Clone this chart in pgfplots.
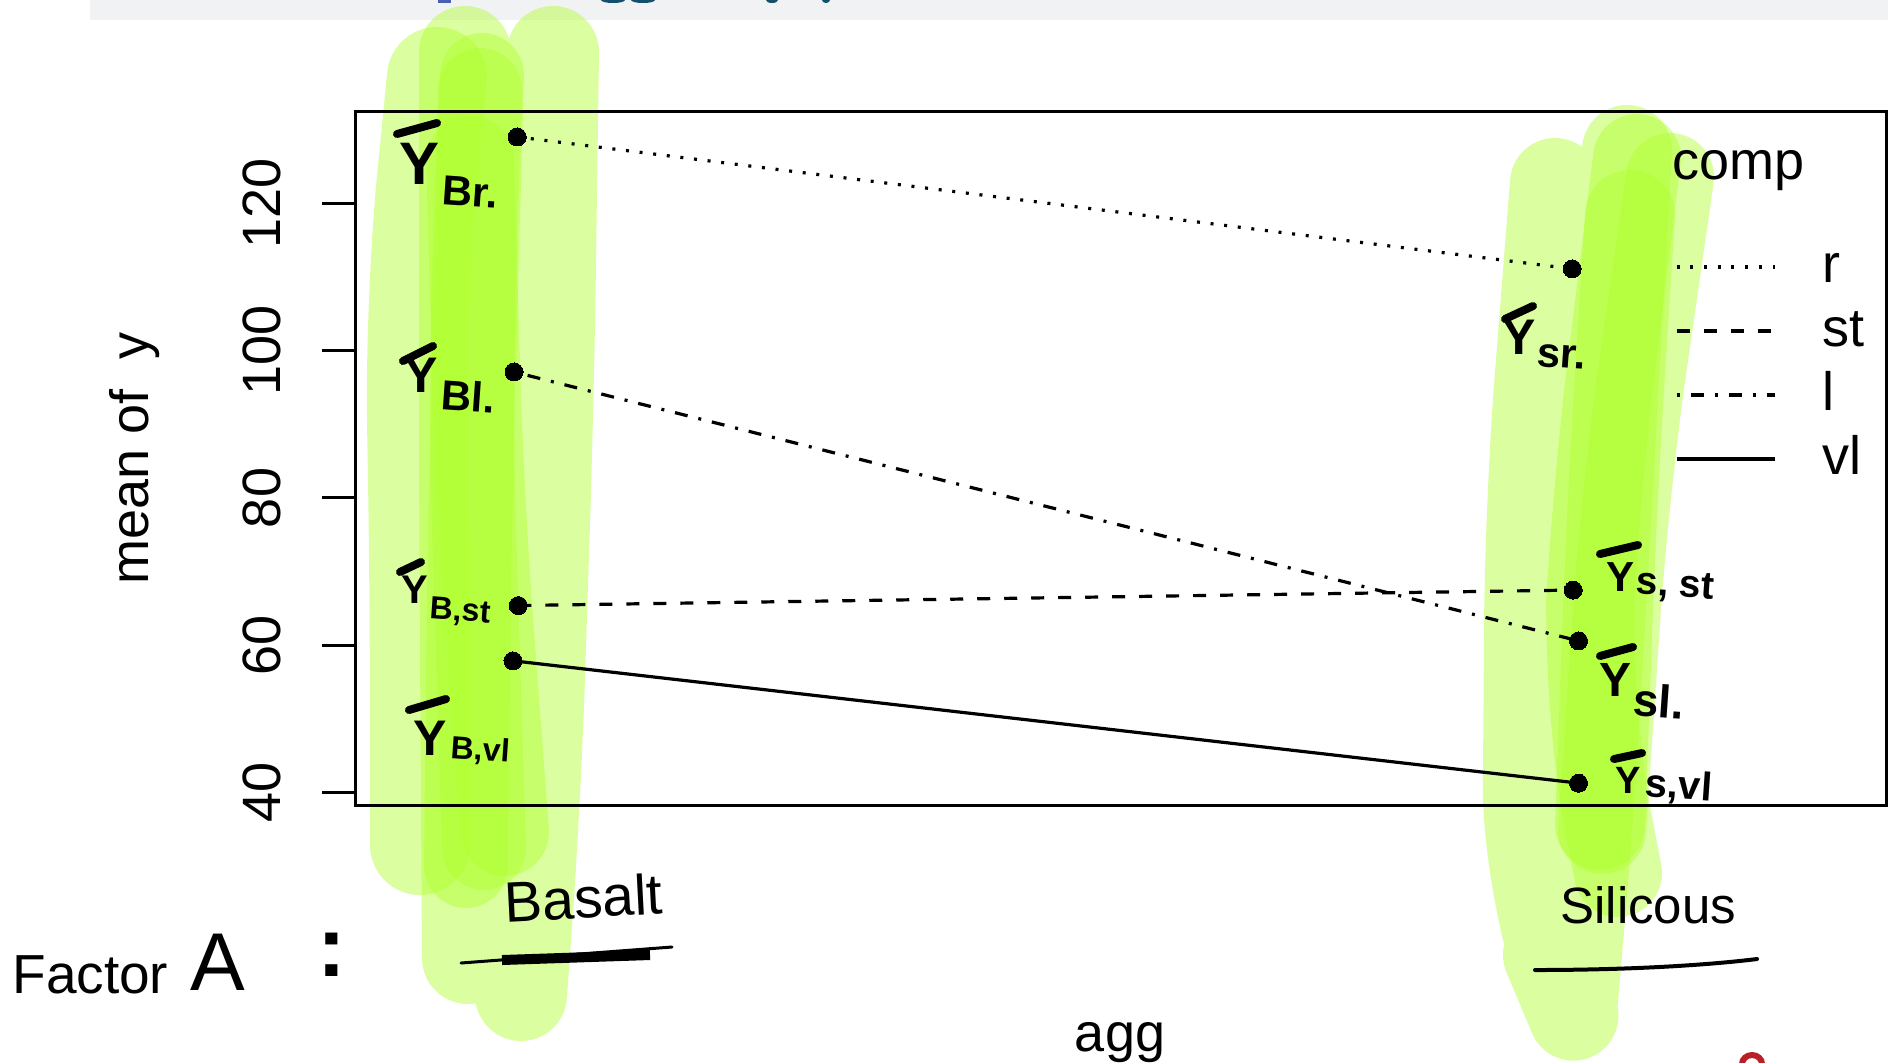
\documentclass[border=0pt]{standalone}
\usepackage{pgfplots}
\pgfplotsset{compat=1.18}
\usepackage{fontspec}
\setmainfont{Liberation Sans}
\definecolor{hl}{HTML}{AFFF2D}
\definecolor{band}{HTML}{F1F2F4}
\definecolor{teal}{HTML}{12506B}
\definecolor{blu}{HTML}{4A5FB0}
\definecolor{redm}{HTML}{B82025}
\newcommand{\hlstroke}[2]{\draw[hl,opacity=.45,line width=#1*0.5pt,line cap=round,line join=round,rounded corners=60pt] #2;}
% bar: x1 y1 x2 y2 ; Y: x y size ; sub: size, at ; sub text in \subtxt
\newcommand{\yb}[9]{%
  \draw[line width=4pt,line cap=round] (#1,#2)--(#3,#4);
  \node[inner sep=0,font=\fontsize{#7}{#7}\selectfont\bfseries] at (#5,#6) {Y};
  \node[inner sep=0,anchor=west,font=\fontsize{#8}{#8}\selectfont\bfseries,rotate=-4] at (#9) {\subtxt};}
\pgfplotsset{pt/.style={black,line width=1.6pt,mark=*,mark size=4.5pt,mark options={solid,fill=black,draw=black,line width=0pt}}}
\begin{document}
\begin{tikzpicture}[x=0.5pt,y=-0.5pt]
\path[use as bounding box] (0,0) rectangle (1888,1062);
\begin{scope}
\clip (0,0) rectangle (1888,1062);
\fill[band] (90,0) rectangle (1888,19.5);
\fill[blu] (438,0) rectangle (451,2.5);
\fill[teal] (613,0) ellipse (12 and 3);
\fill[teal] (643,0) ellipse (12 and 3);
\fill[teal] (772,0) ellipse (6 and 3);
\fill[teal] (826,0) ellipse (4 and 3);
\draw[redm,line width=3pt] (1742,1064) arc (180:360:10 and 9);
% Basalt highlighter strokes
\hlstroke{92}{(465,52)--(465,500)--(468,958) (521,995)--(535,800)--(548,400)--(553,52)}
\hlstroke{100}{(437,77)--(415,300)--(420,600)--(420,845)}
\hlstroke{84}{(482,75)--(470,500)--(466,866)}
\hlstroke{84}{(480,90)--(470,400)--(484,848)}
\hlstroke{88}{(470,160)--(480,500)--(505,832)}
% Silicous highlighter strokes
\hlstroke{90}{(1555,183)--(1530,500)--(1527,905)--(1548,955) (1572,1012)--(1590,800)--(1610,450)--(1627,150)}
\hlstroke{88}{(1637,158)--(1596,490)--(1585,700)--(1618,873)}
\hlstroke{88}{(1670,177)--(1625,490)--(1602,830)}
\hlstroke{90}{(1630,215)--(1612,500)--(1600,825)}
\end{scope}
\begin{axis}[
  at={(177.5pt,-402.75pt)},anchor=south west,
  scale only axis,width=765.5pt,height=347pt,
  xmin=0.849,xmax=2.293,ymin=38.26,ymax=132.45,
  xtick=\empty,ytick={40,60,80,100,120},ytick pos=left,
  tick align=outside,major tick length=16.5pt,
  axis line style={line width=1.5pt},
  tick style={line width=1.5pt,black},
  axis background/.style={fill=none},
  clip=false,
  /pgf/number format/assume math mode=true,
  tick label style={font=\fontsize{27}{27}\selectfont},
  yticklabel style={rotate=90,anchor=south,inner sep=0pt,yshift=20.5pt},
  xlabel={agg},ylabel={mean of\ \ y},
  every axis x label/.style={at={(axis description cs:0.4997,-0.342)},anchor=center,font=\fontsize{27}{27}\selectfont},
  every axis y label/.style={at={(axis description cs:-0.1437,0.5007)},rotate=90,anchor=center,font=\fontsize{27}{27}\selectfont},
  legend image code/.code={\draw[#1] (0pt,0pt)--(49pt,0pt);},
  legend style={draw=none,fill=none,at={(axis description cs:0.8622,0.809)},anchor=north west,
    inner sep=0pt,outer sep=0pt,font=\fontsize{27}{27}\selectfont,row sep=9pt,
    nodes={inner sep=0pt,text height=19pt,text depth=4pt},
    /tikz/every odd column/.append style={column sep=23pt}},
  legend cell align=left,
]
\addplot[pt,dash pattern=on 1.5pt off 5.35pt] coordinates {(1.002,129.0) (1.997,111.1)};
\addlegendentry{r}
\addplot[pt,dash pattern=on 6.5pt off 7pt] coordinates {(1.003,65.4) (1.998,67.5)};
\addlegendentry{st}
\addplot[pt,dash pattern=on 1.5pt off 5.5pt on 6.5pt off 5.5pt] coordinates {(0.999,97.1) (2.003,60.6)};
\addlegendentry{l}
\addplot[pt,solid] coordinates {(0.998,57.9) (2.003,41.3)};
\addlegendentry{vl}
\end{axis}
\node[font=\fontsize{27}{27}\selectfont,inner sep=0] at (1738,171) {comp};
% handwritten annotations
\def\subtxt{Br.}\yb{397}{134}{437}{123}{420}{164}{30}{21}{442,190}
\def\subtxt{Bl.}\yb{403}{361}{433}{346}{421}{375}{25}{21}{441,394}
\def\subtxt{B,st}\yb{400}{572}{421}{562}{415}{590}{20}{16}{430,610}
\def\subtxt{B,vl}\yb{409}{710}{446}{699}{430}{738}{25}{16}{451,749}
\def\subtxt{sr.}\yb{1505}{319}{1533}{306}{1519}{337}{25}{21}{1537,355}
\def\subtxt{s, st}\yb{1600}{554}{1638}{545}{1620}{577}{21}{19.5}{1636,584}
\def\subtxt{sl.}\yb{1600}{656}{1633}{647}{1615}{680}{24}{23}{1633,699}
\def\subtxt{s,vl}\yb{1614}{759}{1642}{753}{1628}{780}{19}{20}{1645,785}
\node[anchor=base west,inner sep=0,rotate=3,font=\fontsize{28.5}{28.5}\selectfont] at (505,922) {Basalt};
\node[anchor=base west,inner sep=0,font=\fontsize{25.5}{25.5}\selectfont] at (1560,923) {Silicous};
\node[anchor=base west,inner sep=0,font=\fontsize{27.5}{27.5}\selectfont] at (12,993) {Factor};
\node[anchor=base west,inner sep=0,font=\fontsize{41}{41}\selectfont] at (190,990) {A};
\node[anchor=base,inner sep=0,font=\fontsize{43}{43}\selectfont\bfseries] at (332,976) {:};
\draw[line width=1.5pt,line cap=round] (461,963)--(672,947);
\draw[line width=5pt] (502,960)--(650,955);
\draw[line width=2pt,line cap=round] (1535,970) .. controls (1620,970) and (1700,966) .. (1757,959);
\end{tikzpicture}
\end{document}
